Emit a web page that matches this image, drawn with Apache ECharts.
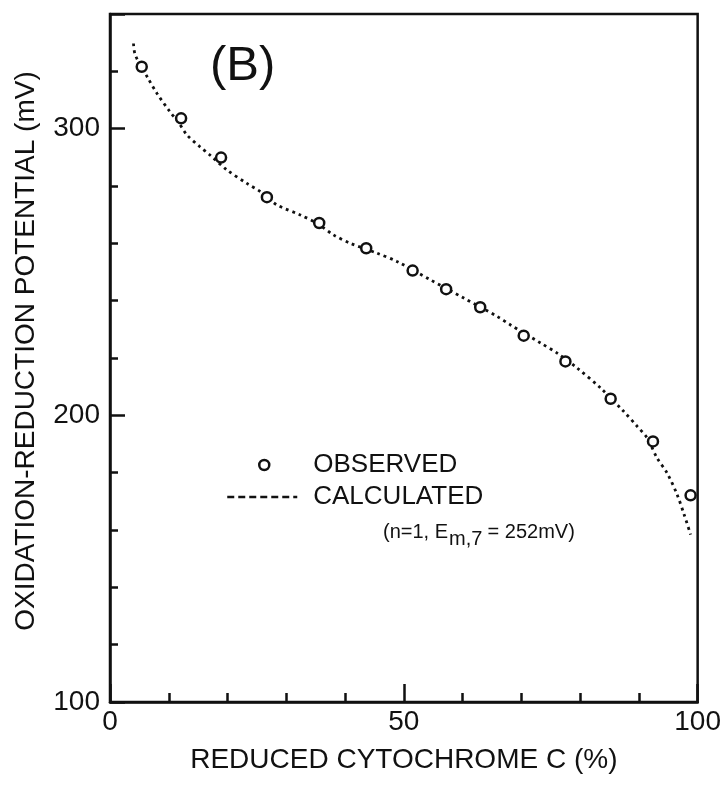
<!DOCTYPE html>
<html>
<head>
<meta charset="utf-8">
<style>
  html, body { margin: 0; padding: 0; background: #ffffff; }
  #chart { width: 724px; height: 785px; }
</style>
<script src="https://cdn.jsdelivr.net/npm/echarts@6/dist/echarts.min.js"></script>
</head>
<body>
<div id="chart"></div>
<script>
// ---- data ----
var obsX = [5.4, 12.1, 18.9, 26.7, 35.6, 43.6, 51.5, 57.2, 63.0, 70.4, 77.5, 85.2, 92.4, 98.8];
var obsY = [321.6, 303.6, 289.9, 276.1, 267.1, 258.3, 250.5, 244.0, 237.7, 227.8, 218.8, 205.8, 190.9, 172.1];

var calcX = [4.0, 4.3, 6.5, 8.0, 10.2, 11.6, 13.1, 15.3, 17.0, 19.9, 23.3, 25.6, 28.4, 32.4, 35.2, 38.0, 40.9, 45.4, 48.8, 54.5, 60.2, 65.9, 68.1, 73.3, 76.1, 79.5, 83.5, 87.4, 89.7, 91.4, 93.1, 94.8, 96.5, 97.7, 98.8];
var calcY = [329.7, 325.7, 317.5, 312.3, 305.9, 302.4, 297.8, 293.7, 290.8, 285.6, 280.9, 278.0, 273.4, 269.9, 267.0, 263.0, 260.0, 256.6, 253.7, 247.3, 240.9, 234.5, 231.6, 225.2, 221.7, 216.5, 209.5, 201.4, 196.2, 192.1, 185.1, 179.9, 172.4, 165.4, 158.4];

var xTickLabels = [0, 50, 100];
var yTickLabels = [100, 200, 300];

var seriesNames = ['OBSERVED', 'CALCULATED'];
var panelLabel = '(B)';
var xTitle = 'REDUCED CYTOCHROME C (%)';
var yTitle = 'OXIDATION-REDUCTION POTENTIAL (mV)';

// ---- build ----
function zip(a, b) { return a.map(function (v, i) { return [v, b[i]]; }); }

var INK = '#111';
var FONT = '"Liberation Sans", Arial, sans-serif';

var chart = echarts.init(document.getElementById('chart'), null, { renderer: 'canvas' });

var option = {
  backgroundColor: '#ffffff',
  animation: false,
  grid: {
    left: 110, right: 26, top: 14, bottom: 83,
    show: true, borderColor: INK, borderWidth: 2.5, backgroundColor: 'transparent'
  },
  xAxis: [
    { // minor ticks every 10
      type: 'value', min: 0, max: 100, interval: 10, position: 'bottom',
      axisLine: { show: true, lineStyle: { color: INK, width: 2.5 } },
      axisTick: { show: true, inside: true, length: 9, lineStyle: { color: INK, width: 2.5 } },
      axisLabel: { show: false },
      splitLine: { show: false }
    },
    { // major ticks + labels every 50
      type: 'value', min: 0, max: 100, interval: 50, position: 'bottom',
      name: xTitle, nameLocation: 'middle', nameGap: 44,
      nameTextStyle: { fontFamily: FONT, fontSize: 28, color: INK },
      axisLine: { show: false },
      axisTick: { show: true, inside: true, length: 18, lineStyle: { color: INK, width: 2.5 } },
      axisLabel: {
        show: true, margin: 6, fontFamily: FONT, fontSize: 28, color: INK,
        formatter: function (v) { return xTickLabels.indexOf(v) >= 0 ? String(v) : ''; }
      },
      splitLine: { show: false }
    }
  ],
  yAxis: [
    { // minor ticks every 20
      type: 'value', min: 100, max: 340, interval: 20, position: 'left',
      axisLine: { show: true, lineStyle: { color: INK, width: 2.5 } },
      axisTick: { show: true, inside: true, length: 8, lineStyle: { color: INK, width: 2.5 } },
      axisLabel: { show: false },
      splitLine: { show: false }
    },
    { // major ticks + labels every 100
      type: 'value', min: 100, max: 340, interval: 100, position: 'left',
      name: yTitle, nameLocation: 'middle', nameGap: 70, nameRotate: 90,
      nameTextStyle: { fontFamily: FONT, fontSize: 28, color: INK, padding: [0, 0, 0, 14] },
      axisLine: { show: false },
      axisTick: { show: true, inside: true, length: 15, lineStyle: { color: INK, width: 2.5 } },
      axisLabel: {
        show: true, margin: 10, fontFamily: FONT, fontSize: 28, color: INK,
        formatter: function (v) { return yTickLabels.indexOf(v) >= 0 ? String(v) : ''; }
      },
      splitLine: { show: false }
    }
  ],
  legend: [
    {
      data: [{ name: seriesNames[0], icon: 'circle' }],
      left: 258, top: 452, padding: 0, orient: 'vertical',
      itemWidth: 10, itemHeight: 10, selectedMode: false,
      itemStyle: { color: '#ffffff', borderColor: INK, borderWidth: 2.5 },
      textStyle: { fontFamily: FONT, fontSize: 26, color: INK, lineHeight: 26, padding: [0, 0, 0, 39] }
    },
    {
      data: [seriesNames[1]],
      left: 226, top: 484, padding: 0, orient: 'vertical',
      itemWidth: 70, itemHeight: 14, selectedMode: false,
      itemStyle: { color: 'transparent', borderColor: 'transparent', borderWidth: 0, opacity: 0 },
      lineStyle: { color: INK, width: 2.5, type: [7, 4] },
      textStyle: { fontFamily: FONT, fontSize: 26, color: INK, lineHeight: 26, padding: [0, 0, 0, 11] }
    }
  ],
  graphic: [
    {
      type: 'text', left: 210, top: 42, silent: true,
      style: { text: panelLabel, fontFamily: FONT, fontSize: 49, fill: INK }
    },
    {
      type: 'group', left: 383, top: 522, silent: true,
      children: [
        { type: 'text', x: 0, y: 0, style: { text: '(n=1, E', fontFamily: FONT, fontSize: 20, fill: INK } },
        { type: 'text', x: 66, y: 7, style: { text: 'm,7', fontFamily: FONT, fontSize: 20, fill: INK } },
        { type: 'text', x: 99, y: 0, style: { text: ' = 252mV)', fontFamily: FONT, fontSize: 20, fill: INK } }
      ]
    }
  ],
  series: [
    {
      name: seriesNames[1], type: 'line', xAxisIndex: 0, yAxisIndex: 0,
      data: zip(calcX, calcY), smooth: 0.3, symbol: 'none', showSymbol: false,
      lineStyle: { color: INK, width: 2.8, type: [2.8, 4] },
      itemStyle: { color: INK },
      z: 2
    },
    {
      name: seriesNames[0], type: 'scatter', xAxisIndex: 0, yAxisIndex: 0,
      data: zip(obsX, obsY), symbol: 'circle', symbolSize: 10,
      itemStyle: { color: '#ffffff', borderColor: INK, borderWidth: 2.5, opacity: 1 },
      z: 3
    }
  ]
};

chart.setOption(option);
</script>
</body>
</html>
